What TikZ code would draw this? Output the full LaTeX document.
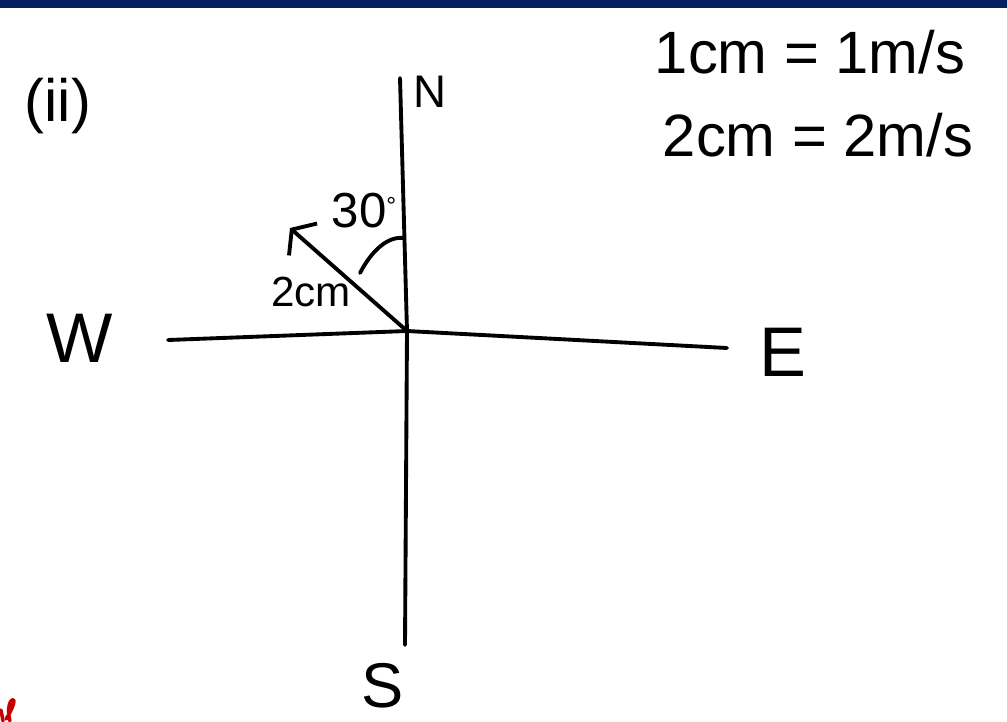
\documentclass[tikz,border=0pt]{standalone}
\usepackage{fontspec}
\setmainfont{Liberation Sans}
\usetikzlibrary{arrows.meta}
\definecolor{navybar}{RGB}{0,32,96}
\definecolor{inkred}{RGB}{200,0,0}

\begin{document}
\begin{tikzpicture}[x=0.02cm,y=-0.02cm,line width=2.2pt,line cap=round,line join=round]
\useasboundingbox (0,0) rectangle (1007,721);
\fill [navybar] (0,0) rectangle (1007,8);
\coordinate (O) at (407,331);
\coordinate (wend) at (168,340);
\coordinate (eend) at (727,348);
\coordinate (ntop) at (400,78);
\coordinate (send) at (405,645);
\draw (wend) -- (O) -- (eend);
\draw (ntop) -- (O) -- (send);
\coordinate (tip) at (290,228);
\draw [-{Straight Barb[length=0.3cm,width=0.85cm]}] (O) -- (tip);
\draw (360,273) .. controls (372,250) and (388,236) .. (404,238);
\node[font=\fontsize{24}{24}\selectfont] (len) at (311,292) {2cm};
\node[font=\fontsize{28}{28}\selectfont] (ang) at (364,211) {30\raisebox{0.5ex}{\fontsize{14}{14}\selectfont °}};
\node[font=\fontsize{34}{34}\selectfont] (part) at (58,106) {(ii)};
\node[font=\fontsize{26}{26}\selectfont] (north) at (430,92) {N};
\node[font=\fontsize{40}{40}\selectfont] (west) at (80,338) {W};
\node[font=\fontsize{40}{40}\selectfont] (east) at (783,352) {E};
\node[font=\fontsize{36}{36}\selectfont] (south) at (383,686) {S};
\node[font=\fontsize{34}{34}\selectfont] (scaleA) at (810,52) {1cm = 1m/s};
\node[font=\fontsize{34}{34}\selectfont] (scaleB) at (818,135) {2cm = 2m/s};
%\node at (0,721) {u};
\draw [inkred,line width=2pt] (1,710) -- (3,721);
\draw [inkred,line width=2pt] (6,719) .. controls (11,712) and (17,698) .. (12,700) .. controls (8,703) and (8,714) .. (10,721);
\end{tikzpicture}
\end{document}
